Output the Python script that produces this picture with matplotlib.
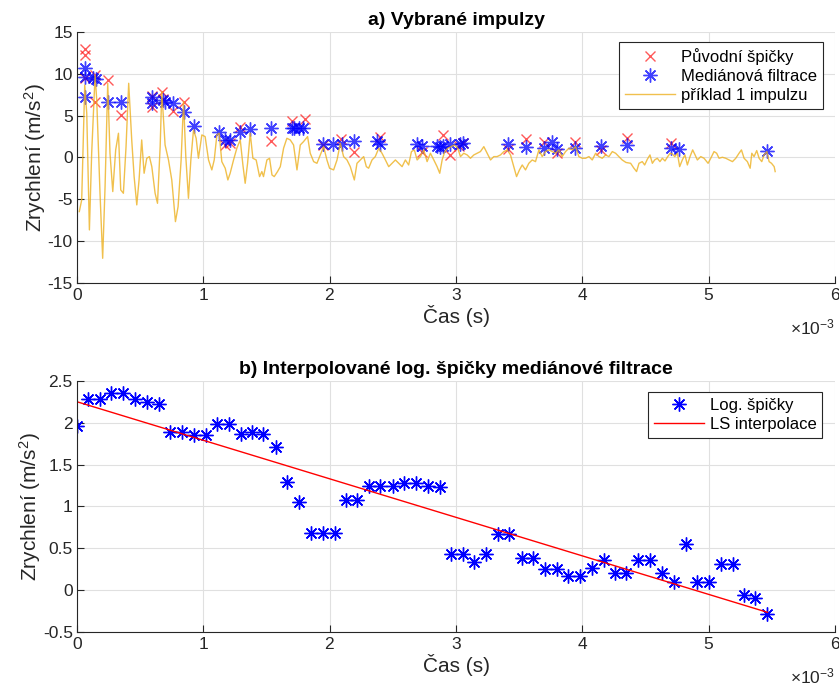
import numpy as np
import matplotlib
matplotlib.use('Agg')
import matplotlib.pyplot as plt
from matplotlib.ticker import ScalarFormatter, MultipleLocator, FuncFormatter

plt.rcParams['font.family'] = ['Liberation Sans', 'DejaVu Sans']
plt.rcParams['mathtext.fontset'] = 'custom'
plt.rcParams['mathtext.rm'] = 'Liberation Sans'
plt.rcParams['mathtext.it'] = 'Liberation Sans:italic'
plt.rcParams['axes.unicode_minus'] = False

# a) priklad 1 impulzu (cas v ms, zrychleni)
impulz_t = [0.018, 0.037, 0.061, 0.077, 0.098, 0.116, 0.143, 0.156, 0.182, 0.203,
            0.222, 0.243, 0.261, 0.283, 0.306, 0.328, 0.346, 0.367, 0.388, 0.409,
            0.433, 0.452, 0.473, 0.491, 0.512, 0.531, 0.552, 0.573, 0.592, 0.618,
            0.637, 0.658, 0.671, 0.697, 0.724, 0.750, 0.779, 0.800, 0.824, 0.843,
            0.861, 0.882, 0.901, 0.922, 0.943, 0.961, 0.988, 1.014, 1.041, 1.067,
            1.086, 1.107, 1.125, 1.146, 1.173, 1.194, 1.212, 1.239, 1.265, 1.292,
            1.313, 1.331, 1.350, 1.371, 1.392, 1.418, 1.445, 1.463, 1.476, 1.503,
            1.524, 1.543, 1.561, 1.587, 1.609, 1.635, 1.661, 1.688, 1.714, 1.741,
            1.767, 1.793, 1.825, 1.846, 1.873, 1.899, 1.926, 1.952, 1.978, 1.999,
            2.031, 2.058, 2.084, 2.110, 2.137, 2.163,
            2.195, 2.216, 2.242, 2.269, 2.290, 2.308, 2.335, 2.361, 2.388, 2.414,
            2.441, 2.467, 2.493, 2.520, 2.546, 2.573, 2.599, 2.625, 2.647, 2.670,
            2.692, 2.718, 2.744, 2.771, 2.797, 2.824, 2.850, 2.871, 2.890, 2.911,
            2.934, 2.961, 2.987, 3.014, 3.035, 3.061, 3.088, 3.114, 3.141, 3.167,
            3.193, 3.220, 3.246, 3.273, 3.299, 3.325, 3.352, 3.378, 3.405, 3.431,
            3.457, 3.479, 3.502, 3.524, 3.550, 3.576, 3.603, 3.629, 3.656, 3.682,
            3.708, 3.735, 3.761, 3.788, 3.814, 3.840, 3.867, 3.893, 3.920, 3.946,
            3.972, 3.999, 4.025, 4.052, 4.078, 4.105, 4.131, 4.157, 4.184, 4.210,
            4.237, 4.263, 4.289, 4.315, 4.345,
            4.382, 4.408, 4.429, 4.448, 4.474, 4.493, 4.514, 4.535, 4.554, 4.572,
            4.593, 4.614, 4.633, 4.654, 4.672, 4.694, 4.712, 4.731, 4.752, 4.770,
            4.791, 4.812, 4.831, 4.852, 4.873, 4.892, 4.910, 4.937, 4.963, 4.995,
            5.016, 5.042, 5.063, 5.082, 5.108, 5.135, 5.161, 5.188, 5.214, 5.240,
            5.259, 5.280, 5.306, 5.328, 5.341, 5.359, 5.380, 5.399, 5.420, 5.438,
            5.460, 5.478, 5.497, 5.518, 5.526]
impulz_a = [-6.47, -5.08, 8.66, 5.28, -8.66, 0.50, 9.86, 6.87, -4.28, -12.05,
            -3.48, 8.86, 0.50, -4.08, 0.90, 2.89, -3.88, -4.28, 1.29, 8.86,
            2.09, -2.29, -5.67, -2.69, 2.09, -1.89, -0.10, 0.10, -1.10, -4.28,
            -5.48, 1.29, 7.87, 1.49, -0.30, -2.69, -7.67, -5.87, -0.30, 6.67,
            0.10, -4.88, -0.30, 3.29, 2.29, -0.10, 2.69, 2.49, -0.30, -1.49,
            -0.30, 2.69, 2.89, -0.50, -1.29, -2.69, -1.89, -0.30, 1.10, 2.09,
            -0.90, -3.09, -0.70, 2.89, -0.10, -0.30, -2.29, -1.69, -2.29, -0.30,
            -0.10, -2.09, -2.29, -1.69, -1.10, 1.10, 2.29, 2.09, 1.49, -1.49,
            1.49, 1.89, 2.49, 0.50, -0.50, -0.70, 0.30, 1.29, -0.30, -1.29,
            -1.49, -0.30, 1.69, 0.10, -0.30, -1.10,
            -2.69, -0.70, -0.30, 0.10, -1.10, -1.29, -0.30, 0.10, 1.10, 0.50,
            -0.30, -1.10, -0.70, -0.30, -0.70, -1.10, -0.30, -0.90, 0.70, 0.90,
            -0.30, 0.10, 0.90, -0.50, 0.50, -0.30, -1.10, -1.89, -0.30, 0.70,
            1.10, 1.29, 1.49, 1.10, 0.10, 0.50, 0.30, -0.10, 0.30, 0.50,
            0.70, 1.29, 0.50, -0.30, 0.10, 0.10, 0.30, 0.70, 0.90, 0.30,
            -1.10, -2.29, -1.49, -0.90, -1.49, -0.70, -0.30, -0.50, 0.90, 0.10,
            0.70, 0.90, 0.70, 0.50, 0.90, 0.10, 0.70, 1.10, 0.90, 1.29,
            0.10, -0.10, -0.10, 0.10, -0.30, 0.50, 0.10, -0.10, 0.30, 0.10,
            0.70, 0.50, 0.10, -0.30, -0.60,
            -0.70, -1.29, -1.69, -0.70, -0.50, -0.90, -0.22, 0.30, -0.70, -0.30,
            -0.10, -0.50, -0.10, -0.42, 0.02, 0.50, 0.42, 0.10, 0.50, -1.10,
            -0.30, 0.30, -0.90, 0.10, 0.90, 0.30, -0.30, 0.10, -0.10, -0.70,
            -0.10, 0.70, 0.50, -0.10, 0.02, -0.10, -0.30, -0.50, -0.10, 0.50,
            0.90, -0.10, -0.50, -1.29, 0.50, 0.10, 0.82, -0.10, -0.50, 0.30,
            0.70, -0.50, -0.70, -1.10, -1.69]

# a) puvodni spicky (cervene x)
spicky_t = [0.061, 0.061, 0.061, 0.143, 0.143, 0.246, 0.348, 0.590, 0.590, 0.669,
            0.679, 0.758, 0.843, 1.173, 1.212, 1.290, 1.537, 1.700, 1.805, 1.947,
            2.090, 2.195, 2.400, 2.730, 2.900, 2.956, 3.020, 3.056, 3.410, 3.550,
            3.695, 3.796, 3.940, 4.150, 4.356, 4.700]
spicky_a = [13.0, 12.2, 9.5, 9.86, 6.67, 9.3, 5.05, 6.0, 7.35, 7.8,
            7.0, 5.6, 6.67, 1.49, 1.69, 3.68, 1.95, 4.4, 4.56, 1.49,
            2.15, 0.6, 2.41, 0.65, 2.65, 0.30, 1.35, 1.69, 0.98, 2.17,
            1.85, 0.5, 1.89, 0.9, 2.29, 1.69]

# a) medianova filtrace (modre *)
median_t = [0.061, 0.061, 0.061, 0.130, 0.150, 0.248, 0.346, 0.592, 0.592, 0.679,
            0.697, 0.758, 0.843, 0.922, 1.125, 1.170, 1.212, 1.292, 1.370, 1.537,
            1.700, 1.720, 1.760, 1.790, 1.950, 2.030, 2.095, 2.195, 2.375, 2.400,
            2.690, 2.730, 2.850, 2.876, 2.900, 2.956, 3.035, 3.056, 3.410, 3.550,
            3.695, 3.756, 3.796, 3.940, 4.150, 4.356, 4.700, 4.765, 5.460]
median_a = [10.66, 9.66, 7.19, 9.5, 9.4, 6.67, 6.67, 7.27, 6.48, 6.87,
            6.6, 6.48, 5.47, 3.76, 3.0, 2.05, 2.05, 3.08, 3.45, 3.5,
            3.5, 3.5, 3.55, 3.5, 1.65, 1.65, 1.55, 2.0, 2.0, 1.58,
            1.58, 1.37, 1.37, 1.29, 1.37, 1.58, 1.58, 1.69, 1.58, 1.29,
            1.1, 1.89, 0.98, 1.17, 1.37, 1.45, 1.1, 0.98, 0.81]

# b) logaritmy spicek medianove filtrace
log_t = [0.0, 0.09, 0.18, 0.27, 0.365, 0.46, 0.555, 0.645, 0.737, 0.83,
         0.925, 1.017, 1.107, 1.2, 1.294, 1.387, 1.476, 1.574, 1.664, 1.76,
         1.85, 1.944, 2.04, 2.126, 2.216, 2.314, 2.4, 2.5, 2.59, 2.68,
         2.78, 2.87, 2.96, 3.056, 3.146, 3.235, 3.33, 3.42, 3.52, 3.61,
         3.706, 3.796, 3.89, 3.983, 4.078, 4.17, 4.255, 4.348, 4.443, 4.535,
         4.627, 4.725, 4.82, 4.91, 5.0, 5.095, 5.19, 5.28, 5.37, 5.465]
log_a = [1.96, 2.28, 2.28, 2.36, 2.36, 2.28, 2.25, 2.22, 1.89, 1.89,
         1.85, 1.85, 1.99, 1.99, 1.87, 1.89, 1.87, 1.71, 1.29, 1.055,
         0.685, 0.685, 0.685, 1.08, 1.075, 1.24, 1.25, 1.25, 1.275, 1.275,
         1.25, 1.235, 0.43, 0.43, 0.335, 0.43, 0.67, 0.67, 0.386, 0.386,
         0.255, 0.255, 0.164, 0.164, 0.26, 0.36, 0.207, 0.207, 0.358, 0.358,
         0.207, 0.092, 0.55, 0.092, 0.092, 0.307, 0.307, -0.06, -0.09, -0.287]

ms = 1e-3
asterisk = (8, 2, 0)
orange = '#EDB120'
axc = '#262626'


def matlab_fmt(v, pos):
    return '%g' % (round(v, 6) + 0.0)


def style_axes(ax, ylim, ystep):
    ax.set_xlim(0, 6 * ms)
    ax.set_ylim(*ylim)
    ax.xaxis.set_major_locator(MultipleLocator(1 * ms))
    ax.yaxis.set_major_locator(MultipleLocator(ystep))
    fmt = ScalarFormatter(useMathText=True)
    fmt.set_powerlimits((-3, -3))
    ax.xaxis.set_major_formatter(fmt)
    ax.xaxis.get_offset_text().set_visible(False)
    ax.yaxis.set_major_formatter(FuncFormatter(matlab_fmt))
    ax.text(1.0, -0.178, r'$\times 10^{-3}$', transform=ax.transAxes, ha='right',
            va='center', fontsize=12.5, color=axc)
    ax.grid(True, color='#e0e0e0', linewidth=0.8)
    ax.set_axisbelow(True)
    for s in ['top', 'right']:
        ax.spines[s].set_visible(False)
    for s in ['left', 'bottom']:
        ax.spines[s].set_color(axc)
        ax.spines[s].set_linewidth(0.8)
    ax.tick_params(direction='in', length=5, width=0.8, colors=axc, labelsize=12.5,
                   pad=3)
    ax.set_xlabel('Čas (s)', fontsize=15, color=axc, labelpad=1)
    ax.set_ylabel('Zrychlení (m/s$^2$)', fontsize=15, color=axc, labelpad=0)


fig = plt.figure(figsize=(8.39, 6.86), dpi=100)
ax1 = fig.add_axes([0.0918, 0.5875, 0.9035, 0.366])
ax2 = fig.add_axes([0.0918, 0.0787, 0.9035, 0.366])

leg_kw = dict(borderaxespad=0, fontsize=12, fancybox=False, framealpha=1,
              edgecolor=axc, handlelength=3.0, handletextpad=0.35, borderpad=0.35,
              labelspacing=0.25)

# a) vybrane impulzy
ax1.plot(np.array(spicky_t) * ms, spicky_a, 'x', color='red', alpha=0.65,
         markersize=7.5, markeredgewidth=1.0, label='Původní špičky')
ax1.plot(np.array(median_t) * ms, median_a, linestyle='none', marker=asterisk,
         color='blue', alpha=0.75, markersize=10, markeredgewidth=1.0,
         label='Mediánová filtrace')
ax1.plot(np.array(impulz_t) * ms, impulz_a, color=orange, alpha=0.8, linewidth=1.0,
         label='příklad 1 impulzu')
style_axes(ax1, (-15, 15), 5)
ax1.set_title('a) Vybrané impulzy', fontsize=14, fontweight='bold', pad=5)
leg1 = ax1.legend(loc='upper right', bbox_to_anchor=(0.984, 0.960), **leg_kw)
leg1.get_frame().set_linewidth(0.8)

# b) interpolovane log. spicky
tt = np.array(log_t) * ms
koef = np.polyfit(tt, log_a, 1)
ax2.plot(tt, log_a, linestyle='none', marker=asterisk, color='blue', markersize=10,
         markeredgewidth=1.0, label='Log. špičky')
ax2.plot(tt, np.polyval(koef, tt), color='red', linewidth=1.0, label='LS interpolace')
style_axes(ax2, (-0.5, 2.5), 0.5)
ax2.set_title('b) Interpolované log. špičky mediánové filtrace', fontsize=14,
              fontweight='bold', pad=5)
leg2 = ax2.legend(loc='upper right', bbox_to_anchor=(0.983, 0.956), **leg_kw)
leg2.get_frame().set_linewidth(0.8)

fig.savefig('out.png', dpi=100)
